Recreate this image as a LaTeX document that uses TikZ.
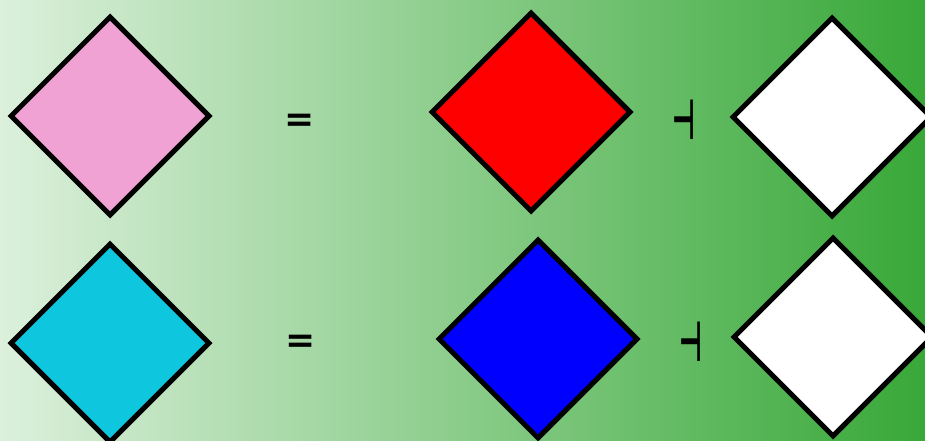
\documentclass[tikz,border=0pt]{standalone}
\usepackage{fontspec}
\newfontfamily\symfont{DejaVu Sans}
\usetikzlibrary{shapes.geometric}
\definecolor{bgleft}{RGB}{220,240,220}
\definecolor{bgright}{RGB}{56,168,56}
\definecolor{pinkfill}{RGB}{240,162,212}
\definecolor{cyanfill}{RGB}{14,198,222}
\tikzset{
  gem/.style={draw=black, line width=5pt, shape=diamond, aspect=1,
    minimum width=200pt, minimum height=200pt, inner sep=0pt, line join=miter},
  opsign/.style={font=\symfont\bfseries\fontsize{36}{36}\selectfont, inner sep=0pt, text=black},
  tacksign/.style={font=\symfont\bfseries\fontsize{56}{56}\selectfont, inner sep=0pt, text=black, xscale=0.45}
}
\begin{document}
\begin{tikzpicture}[x=1pt,y=-1pt]
\useasboundingbox (0,0) rectangle (925,441);
\clip (0,0) rectangle (925,441);
\shade[left color=bgleft, right color=bgright] (0,0) rectangle (925,441);
\node[gem, fill=pinkfill] (p) at (110,116) {};
\node[gem, fill=cyanfill] (c) at (110,343) {};
\node[gem, fill=red] (r) at (531,112) {};
\node[gem, fill=blue] (b) at (538,339) {};
\node[gem, fill=white] (w1) at (832,117) {};
\node[gem, fill=white] (w2) at (833,337) {};
\node[opsign] (e1) at (300,123) {=};
\node[opsign] (e2) at (301,344) {=};
\node[tacksign] (m1) at (684,120) {⊣};
\node[tacksign] (m2) at (691,342) {⊣};
\end{tikzpicture}
\end{document}
